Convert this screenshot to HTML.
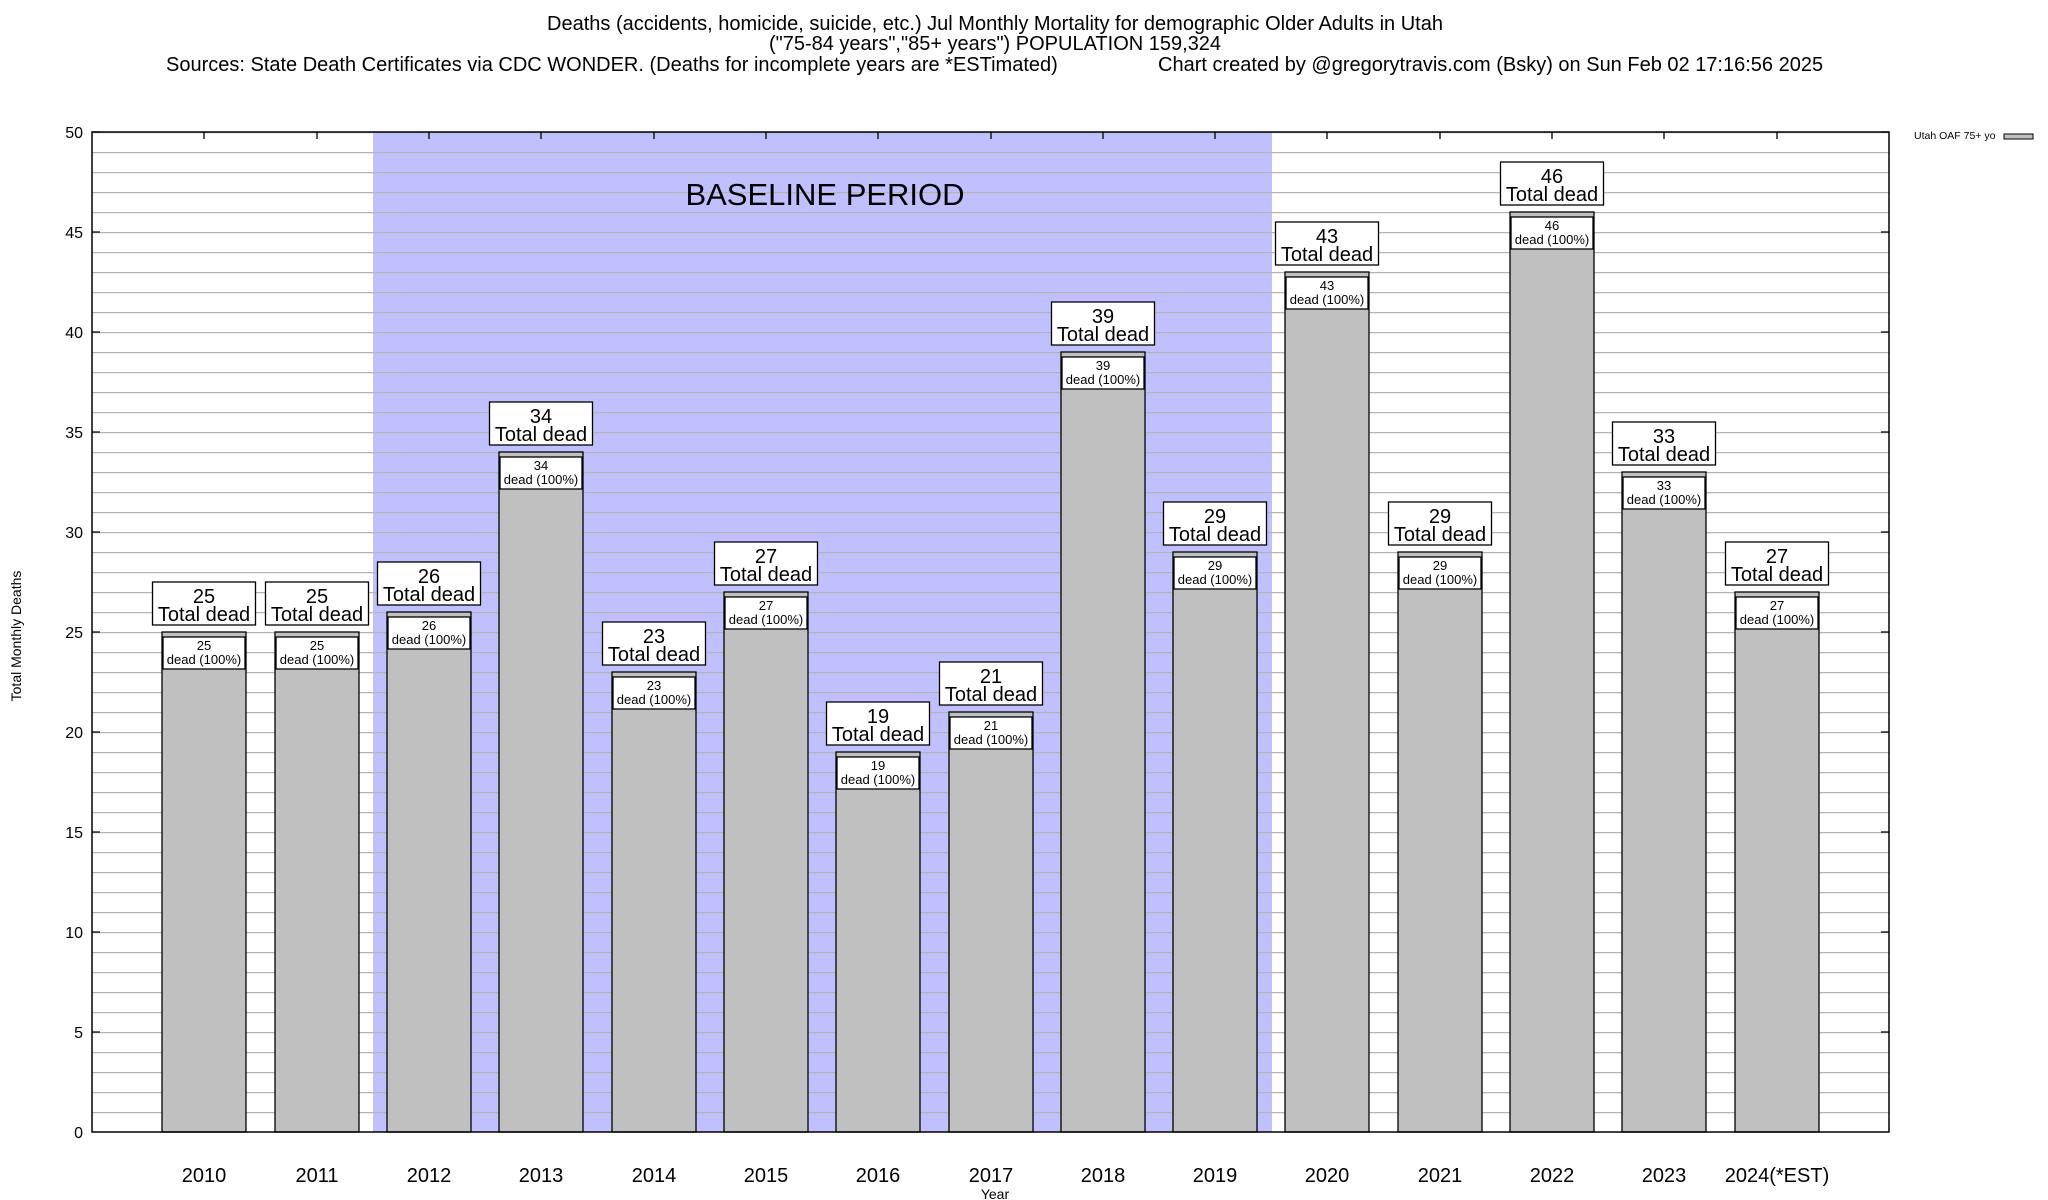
<!DOCTYPE html>
<html><head><meta charset="utf-8"><style>
body{margin:0;background:#fff}
svg{display:block;font-family:"Liberation Sans",Arial,sans-serif}
.bar{fill:#c0c0c0;stroke:#000;stroke-width:1.3}
.box{fill:#fff;stroke:#000;stroke-width:1.3}
.s{font-size:13px;text-anchor:middle}
.m{font-size:20px;text-anchor:middle}
.y{font-size:16px;text-anchor:end}
.x{font-size:20px;text-anchor:middle}
.t{font-size:20px;text-anchor:middle}
</style></head><body>
<svg width="2048" height="1200" viewBox="0 0 2048 1200">
<defs><pattern id="g" x="92" y="132" width="20" height="20" patternUnits="userSpaceOnUse"><line x1="0" y1="0.5" x2="20" y2="0.5" stroke="#b4b4b4" stroke-width="1.4"/></pattern></defs>
<text class="t" x="995" y="30">Deaths (accidents, homicide, suicide, etc.) Jul Monthly Mortality for demographic Older Adults in Utah</text>
<text class="t" x="995" y="50">("75-84 years","85+ years") POPULATION 159,324</text>
<text x="166" y="71" style="font-size:20px">Sources: State Death Certificates via CDC WONDER. (Deaths for incomplete years are *ESTimated)</text>
<text x="1158" y="71" style="font-size:20px">Chart created by @gregorytravis.com (Bsky) on Sun Feb 02 17:16:56 2025</text>
<rect x="373" y="132" width="899" height="1000" fill="#c0c0ff"/>
<rect x="92" y="132" width="1797" height="1000" fill="url(#g)"/>
<text x="825" y="205" style="font-size:31px;text-anchor:middle">BASELINE PERIOD</text>
<g>
<rect class="bar" x="162" y="632" width="84" height="500"/><rect class="box" x="163" y="637" width="82" height="32"/><text class="s" x="204" y="650">25</text><text class="s" x="204" y="664">dead (100%)</text><rect class="box" x="152.5" y="582" width="103" height="43"/><text class="m" x="204" y="603">25</text><text class="m" x="204" y="621">Total dead</text>
<rect class="bar" x="275" y="632" width="84" height="500"/><rect class="box" x="276" y="637" width="82" height="32"/><text class="s" x="317" y="650">25</text><text class="s" x="317" y="664">dead (100%)</text><rect class="box" x="265.5" y="582" width="103" height="43"/><text class="m" x="317" y="603">25</text><text class="m" x="317" y="621">Total dead</text>
<rect class="bar" x="387" y="612" width="84" height="520"/><rect class="box" x="388" y="617" width="82" height="32"/><text class="s" x="429" y="630">26</text><text class="s" x="429" y="644">dead (100%)</text><rect class="box" x="377.5" y="562" width="103" height="43"/><text class="m" x="429" y="583">26</text><text class="m" x="429" y="601">Total dead</text>
<rect class="bar" x="499" y="452" width="84" height="680"/><rect class="box" x="500" y="457" width="82" height="32"/><text class="s" x="541" y="470">34</text><text class="s" x="541" y="484">dead (100%)</text><rect class="box" x="489.5" y="402" width="103" height="43"/><text class="m" x="541" y="423">34</text><text class="m" x="541" y="441">Total dead</text>
<rect class="bar" x="612" y="672" width="84" height="460"/><rect class="box" x="613" y="677" width="82" height="32"/><text class="s" x="654" y="690">23</text><text class="s" x="654" y="704">dead (100%)</text><rect class="box" x="602.5" y="622" width="103" height="43"/><text class="m" x="654" y="643">23</text><text class="m" x="654" y="661">Total dead</text>
<rect class="bar" x="724" y="592" width="84" height="540"/><rect class="box" x="725" y="597" width="82" height="32"/><text class="s" x="766" y="610">27</text><text class="s" x="766" y="624">dead (100%)</text><rect class="box" x="714.5" y="542" width="103" height="43"/><text class="m" x="766" y="563">27</text><text class="m" x="766" y="581">Total dead</text>
<rect class="bar" x="836" y="752" width="84" height="380"/><rect class="box" x="837" y="757" width="82" height="32"/><text class="s" x="878" y="770">19</text><text class="s" x="878" y="784">dead (100%)</text><rect class="box" x="826.5" y="702" width="103" height="43"/><text class="m" x="878" y="723">19</text><text class="m" x="878" y="741">Total dead</text>
<rect class="bar" x="949" y="712" width="84" height="420"/><rect class="box" x="950" y="717" width="82" height="32"/><text class="s" x="991" y="730">21</text><text class="s" x="991" y="744">dead (100%)</text><rect class="box" x="939.5" y="662" width="103" height="43"/><text class="m" x="991" y="683">21</text><text class="m" x="991" y="701">Total dead</text>
<rect class="bar" x="1061" y="352" width="84" height="780"/><rect class="box" x="1062" y="357" width="82" height="32"/><text class="s" x="1103" y="370">39</text><text class="s" x="1103" y="384">dead (100%)</text><rect class="box" x="1051.5" y="302" width="103" height="43"/><text class="m" x="1103" y="323">39</text><text class="m" x="1103" y="341">Total dead</text>
<rect class="bar" x="1173" y="552" width="84" height="580"/><rect class="box" x="1174" y="557" width="82" height="32"/><text class="s" x="1215" y="570">29</text><text class="s" x="1215" y="584">dead (100%)</text><rect class="box" x="1163.5" y="502" width="103" height="43"/><text class="m" x="1215" y="523">29</text><text class="m" x="1215" y="541">Total dead</text>
<rect class="bar" x="1285" y="272" width="84" height="860"/><rect class="box" x="1286" y="277" width="82" height="32"/><text class="s" x="1327" y="290">43</text><text class="s" x="1327" y="304">dead (100%)</text><rect class="box" x="1275.5" y="222" width="103" height="43"/><text class="m" x="1327" y="243">43</text><text class="m" x="1327" y="261">Total dead</text>
<rect class="bar" x="1398" y="552" width="84" height="580"/><rect class="box" x="1399" y="557" width="82" height="32"/><text class="s" x="1440" y="570">29</text><text class="s" x="1440" y="584">dead (100%)</text><rect class="box" x="1388.5" y="502" width="103" height="43"/><text class="m" x="1440" y="523">29</text><text class="m" x="1440" y="541">Total dead</text>
<rect class="bar" x="1510" y="212" width="84" height="920"/><rect class="box" x="1511" y="217" width="82" height="32"/><text class="s" x="1552" y="230">46</text><text class="s" x="1552" y="244">dead (100%)</text><rect class="box" x="1500.5" y="162" width="103" height="43"/><text class="m" x="1552" y="183">46</text><text class="m" x="1552" y="201">Total dead</text>
<rect class="bar" x="1622" y="472" width="84" height="660"/><rect class="box" x="1623" y="477" width="82" height="32"/><text class="s" x="1664" y="490">33</text><text class="s" x="1664" y="504">dead (100%)</text><rect class="box" x="1612.5" y="422" width="103" height="43"/><text class="m" x="1664" y="443">33</text><text class="m" x="1664" y="461">Total dead</text>
<rect class="bar" x="1735" y="592" width="84" height="540"/><rect class="box" x="1736" y="597" width="82" height="32"/><text class="s" x="1777" y="610">27</text><text class="s" x="1777" y="624">dead (100%)</text><rect class="box" x="1725.5" y="542" width="103" height="43"/><text class="m" x="1777" y="563">27</text><text class="m" x="1777" y="581">Total dead</text>
</g>
<rect x="92" y="132" width="1797" height="1000" fill="none" stroke="#000" stroke-width="1.5"/>
<g stroke="#000" stroke-width="1.3">
<path d="M92 132h8M92 232h8M92 332h8M92 432h8M92 532h8M92 632h8M92 732h8M92 832h8M92 932h8M92 1032h8M1889 132h-8M1889 232h-8M1889 332h-8M1889 432h-8M1889 532h-8M1889 632h-8M1889 732h-8M1889 832h-8M1889 932h-8M1889 1032h-8"/>
<path d="M204 132v7M317 132v7M429 132v7M541 132v7M654 132v7M766 132v7M878 132v7M991 132v7M1103 132v7M1215 132v7M1327 132v7M1440 132v7M1552 132v7M1664 132v7M1777 132v7"/>
</g>
<g class="y">
<text class="y" x="83" y="138">50</text><text class="y" x="83" y="238">45</text><text class="y" x="83" y="338">40</text><text class="y" x="83" y="438">35</text><text class="y" x="83" y="538">30</text><text class="y" x="83" y="638">25</text><text class="y" x="83" y="738">20</text><text class="y" x="83" y="838">15</text><text class="y" x="83" y="938">10</text><text class="y" x="83" y="1038">5</text><text class="y" x="83" y="1138">0</text>
</g>
<g>
<text class="x" x="204" y="1182">2010</text><text class="x" x="317" y="1182">2011</text><text class="x" x="429" y="1182">2012</text><text class="x" x="541" y="1182">2013</text><text class="x" x="654" y="1182">2014</text><text class="x" x="766" y="1182">2015</text><text class="x" x="878" y="1182">2016</text><text class="x" x="991" y="1182">2017</text><text class="x" x="1103" y="1182">2018</text><text class="x" x="1215" y="1182">2019</text><text class="x" x="1327" y="1182">2020</text><text class="x" x="1440" y="1182">2021</text><text class="x" x="1552" y="1182">2022</text><text class="x" x="1664" y="1182">2023</text><text class="x" x="1777" y="1182">2024(*EST)</text>
</g>
<text x="995" y="1199" style="font-size:14px;text-anchor:middle">Year</text>
<text transform="translate(21,636) rotate(-90)" style="font-size:14px;text-anchor:middle">Total Monthly Deaths</text>
<text x="1914" y="139" style="font-size:10.5px">Utah OAF 75+ yo</text>
<rect x="2004" y="134" width="29" height="5" fill="#c0c0c0" stroke="#000" stroke-width="1"/>
</svg>
</body></html>
